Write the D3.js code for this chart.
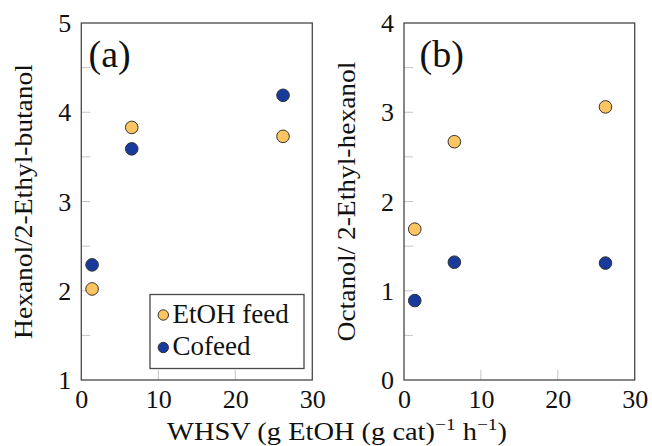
<!DOCTYPE html>
<html><head><meta charset="utf-8">
<script src="https://cdn.jsdelivr.net/npm/d3@7"></script>
<style>html,body{margin:0;padding:0;background:#fff} svg text{font-family:"Liberation Serif","Times New Roman",serif;fill:#111}</style>
</head><body>
<svg id="chart" width="652" height="446"></svg>
<script>
const whsv = [1.4, 6.55, 26.2];
const hexEtOH = [2.02, 3.83, 3.73];
const hexCofeed = [2.29, 3.59, 4.19];
const octEtOH = [1.69, 2.67, 3.06];
const octCofeed = [0.89, 1.32, 1.31];
const xTicks = [0, 10, 20, 30];
const yTicksA = [1, 2, 3, 4, 5];
const yTicksB = [0, 1, 2, 3, 4];
const seriesNames = ["EtOH feed", "Cofeed"];
const colors = ["#FDC462", "#183A9C"];

const svg = d3.select("#chart");
const font = "'Liberation Serif', 'Times New Roman', serif";

function stretchTo(textSel, target) {
  const w = textSel.node().getBBox().width;
  if (w > 0) textSel.attr("transform", `scale(${target / w},1)`);
}

function panel(x0, x1, yDomain, yTicks, series, ylab, ylabLen, tag, tagX, legend) {
  const top = 23, bottom = 380;
  const x = d3.scaleLinear().domain([0, 30]).range([x0, x1]);
  const y = d3.scaleLinear().domain(yDomain).range([bottom, top]);
  const g = svg.append("g");
  // ticks (inside)
  const minors = d3.range(yDomain[0] + 0.5, yDomain[1], 0.5);
  g.selectAll(".ym").data(minors).join("line")
    .attr("x1", x0).attr("x2", x0 + 9).attr("y1", d => y(d)).attr("y2", d => y(d))
    .attr("stroke", "#c4c4c4").attr("stroke-width", 1);
  g.selectAll(".xm").data([10, 20]).join("line")
    .attr("x1", d => x(d)).attr("x2", d => x(d)).attr("y1", bottom).attr("y2", bottom - 10)
    .attr("stroke", "#c4c4c4").attr("stroke-width", 1);
  // frame
  g.append("rect").attr("x", x0).attr("y", top).attr("width", x1 - x0).attr("height", bottom - top)
    .attr("fill", "none").attr("stroke", "#484848").attr("stroke-width", 1.3);
  // tick labels
  const yAx = d3.axisLeft(y).tickValues(yTicks).tickSize(0).tickPadding(10).tickFormat(d3.format("d"));
  const ya = g.append("g").attr("transform", `translate(${x0},0)`).call(yAx).attr("font-family", null);
  ya.select(".domain").remove();
  ya.selectAll("text").style("font-family", font).attr("font-size", 26).attr("fill", "#111").attr("dy", "0.33em");
  const xAx = d3.axisBottom(x).tickValues(xTicks).tickSize(0).tickPadding(10).tickFormat(d3.format("d"));
  const xa = g.append("g").attr("transform", `translate(0,${bottom})`).call(xAx).attr("font-family", null);
  xa.select(".domain").remove();
  xa.selectAll("text").style("font-family", font).attr("font-size", 26).attr("fill", "#111");
  // y label
  const yl = g.append("g").attr("transform", `translate(${x0 - 57},${(top + bottom) / 2}) rotate(-90)`);
  const ylt = yl.append("text").attr("text-anchor", "middle").attr("dy", "0.32em")
    .style("font-family", font).attr("font-size", 25).text(ylab);
  stretchTo(ylt, ylabLen);
  // tag
  g.append("text").attr("x", tagX).attr("y", 67).style("font-family", font).attr("font-size", 38).text(tag);
  // points
  series.forEach((vals, i) => {
    g.selectAll(".p" + i).data(vals).join("circle")
      .attr("cx", (d, j) => x(whsv[j])).attr("cy", d => y(d)).attr("r", 6.3)
      .attr("fill", colors[i]).attr("stroke", "#333").attr("stroke-width", 1);
  });
  if (legend) {
    const lg = g.append("g");
    lg.append("rect").attr("x", 150).attr("y", 294.5).attr("width", 154).attr("height", 74)
      .attr("fill", "#fff").attr("stroke", "#484848").attr("stroke-width", 1.3);
    seriesNames.forEach((n, i) => {
      const cy = 315 + i * 32.5;
      lg.append("circle").attr("cx", 163.3).attr("cy", cy).attr("r", 5.2)
        .attr("fill", colors[i]).attr("stroke", "#333").attr("stroke-width", 1);
      lg.append("text").attr("x", 172.5).attr("y", cy + 7.5)
        .style("font-family", font).attr("font-size", 27).text(n);
    });
  }
}

panel(81.3, 312.3, [1, 5], yTicksA, [hexEtOH, hexCofeed], "Hexanol/2-Ethyl-butanol", 275, "(a)", 88.5, true);
panel(404, 634.7, [0, 4], yTicksB, [octEtOH, octCofeed], "Octanol/ 2-Ethyl-hexanol", 280, "(b)", 419.5, false);

const xlg = svg.append("g").attr("transform", "translate(337,440)");
const xl = xlg.append("text").attr("x", 0).attr("y", 0).attr("text-anchor", "middle")
  .style("font-family", font).attr("font-size", 25);
xl.append("tspan").text("WHSV (g EtOH (g cat)");
xl.append("tspan").attr("dy", -10).attr("font-size", 17).text("−1");
xl.append("tspan").attr("dy", 10).text(" h");
xl.append("tspan").attr("dy", -10).attr("font-size", 17).text("−1");
xl.append("tspan").attr("dy", 10).text(")");
stretchTo(xl, 340);
</script>
</body></html>
